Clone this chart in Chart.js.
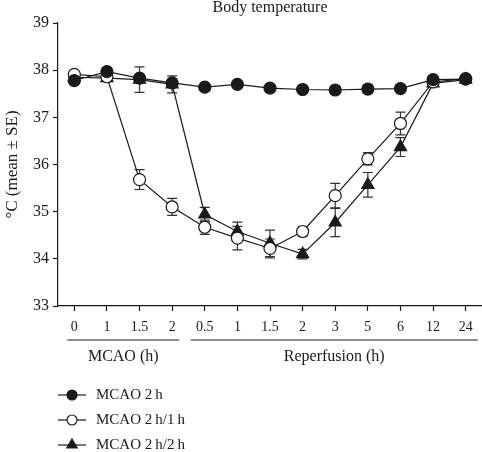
<!DOCTYPE html>
<html>
<head>
<meta charset="utf-8">
<script src="https://cdn.jsdelivr.net/npm/chart.js@4/dist/chart.umd.min.js"></script>
<style>
html, body { margin: 0; padding: 0; background: #fff; }
</style>
</head>
<body>
<canvas id="myChart" width="482" height="452"></canvas>
<script>
// time points (h): first four during MCAO, rest after reperfusion
const timeLabels = ["0", "1", "1.5", "2", "0.5", "1", "1.5", "2", "3", "5", "6", "12", "24"];
const groupNames = ["MCAO (h)", "Reperfusion (h)"];
const seriesNames = ["MCAO 2\u2009h", "MCAO 2\u2009h/1\u2009h", "MCAO 2\u2009h/2\u2009h"];

const mcao2h    = [37.78, 37.97, 37.83, 37.73, 37.64, 37.70, 37.62, 37.59, 37.58, 37.60, 37.61, 37.80, 37.81];
const mcao2h_se = [0.05, 0.05, 0.05, 0.05, 0.04, 0.04, 0.04, 0.04, 0.04, 0.04, 0.04, 0.04, 0.04];

const mcao1h    = [37.91, 37.86, 35.68, 35.10, 34.67, 34.44, 34.22, 34.58, 35.34, 36.12, 36.87, 37.75, 37.82];
const mcao1h_se = [0.05, 0.05, 0.21, 0.18, 0.15, 0.25, 0.20, 0.10, 0.26, 0.13, 0.24, 0.05, 0.04];

const reperf2h    = [37.85, 37.83, 37.80, 37.70, 34.94, 34.58, 34.33, 34.10, 34.77, 35.57, 36.37, 37.72, 37.80];
const reperf2h_se = [0.05, 0.05, 0.27, 0.18, 0.15, 0.20, 0.28, 0.10, 0.30, 0.26, 0.20, 0.05, 0.04];

const serif = "'Liberation Serif', 'DejaVu Serif', serif";
const ink = "#1a1a1a";

// vertical SE bars, drawn under the markers
const errorBars = {
    id: "errorBars",
    beforeDatasetsDraw(chart) {
        const ctx = chart.ctx;
        const y = chart.scales.y;
        ctx.save();
        ctx.strokeStyle = "#333";
        ctx.lineWidth = 1.2;
        chart.data.datasets.forEach((ds, i) => {
            const meta = chart.getDatasetMeta(i);
            meta.data.forEach((pt, j) => {
                const se = ds.se[j];
                if (!se) return;
                const top = y.getPixelForValue(ds.data[j] + se);
                const bot = y.getPixelForValue(ds.data[j] - se);
                ctx.beginPath();
                ctx.moveTo(pt.x, top); ctx.lineTo(pt.x, bot);
                ctx.moveTo(pt.x - 5, top); ctx.lineTo(pt.x + 5, top);
                ctx.moveTo(pt.x - 5, bot); ctx.lineTo(pt.x + 5, bot);
                ctx.stroke();
            });
        });
        ctx.restore();
    }
};

// legend marker drawn with the chart's own point helper
function legendMarker(ctx, ds, px, py) {
    ctx.save();
    ctx.fillStyle = ds.pointBackgroundColor;
    ctx.strokeStyle = ink;
    ctx.lineWidth = 1.2;
    Chart.helpers.drawPoint(ctx, {
        pointStyle: ds.pointStyle,
        radius: ds.pointStyle === "triangle" ? 6 : 5,
        rotation: 0,
        borderWidth: 1.2
    }, px, py);
    ctx.restore();
}

// group brackets under the x axis plus the legend at the bottom
const extras = {
    id: "extras",
    afterDraw(chart) {
        const ctx = chart.ctx;
        const x = chart.scales.x;
        ctx.save();
        ctx.strokeStyle = ink;
        ctx.fillStyle = ink;
        ctx.lineWidth = 1.2;
        ctx.textBaseline = "middle";

        const groups = [
            [x.getPixelForValue(0) - 7, x.getPixelForValue(3) + 7],
            [x.getPixelForValue(4) - 14, x.getPixelForValue(12) + 12]
        ];
        ctx.font = "16px " + serif;
        ctx.textAlign = "center";
        groups.forEach((g, i) => {
            ctx.beginPath();
            ctx.moveTo(g[0], 340); ctx.lineTo(g[1], 340);
            ctx.stroke();
            ctx.fillText(groupNames[i], (g[0] + g[1]) / 2, 357);
        });

        ctx.font = "15px " + serif;
        ctx.textAlign = "left";
        const rows = [395, 420, 445];
        chart.data.datasets.forEach((ds, i) => {
            const yy = rows[i];
            ctx.beginPath();
            ctx.moveTo(58, yy); ctx.lineTo(86, yy);
            ctx.stroke();
            legendMarker(ctx, ds, 72, yy);
            ctx.fillText(seriesNames[i], 96, yy);
        });
        ctx.restore();
    }
};

function makeSet(label, values, se, style, fill) {
    return {
        label: label,
        data: values,
        se: se,
        borderColor: ink,
        borderWidth: 1.2,
        pointStyle: style,
        pointRadius: style === "triangle" ? 7 : 6,
        pointHoverRadius: style === "triangle" ? 7 : 6,
        pointBackgroundColor: fill,
        pointBorderColor: ink,
        pointBorderWidth: 1.2,
        tension: 0,
        clip: false
    };
}

const ctx = document.getElementById("myChart");
new Chart(ctx, {
    type: "line",
    data: {
        labels: timeLabels,
        datasets: [
            makeSet(seriesNames[0], mcao2h, mcao2h_se, "circle", ink),
            makeSet(seriesNames[1], mcao1h, mcao1h_se, "circle", "#ffffff"),
            makeSet(seriesNames[2], reperf2h, reperf2h_se, "triangle", ink)
        ]
    },
    options: {
        responsive: false,
        animation: false,
        devicePixelRatio: 1,
        layout: { padding: 0, autoPadding: false },
        plugins: {
            legend: { display: false },
            tooltip: { enabled: false },
            title: {
                display: true,
                text: "Body temperature",
                color: ink,
                fullSize: false,
                font: { family: serif, size: 16, weight: "normal", lineHeight: 1 },
                padding: { top: 0, bottom: 7 }
            }
        },
        scales: {
            x: {
                type: "category",
                offset: true,
                grid: { display: true, drawOnChartArea: false, tickLength: 5, tickColor: ink, tickWidth: 1.2 },
                border: { display: true, color: ink, width: 1.2 },
                ticks: { color: ink, font: { family: serif, size: 14 }, padding: 8, maxRotation: 0, autoSkip: false },
                afterFit(scale) {
                    scale.height = 146;
                    scale.paddingLeft = 0;
                    scale.paddingRight = 0;
                }
            },
            y: {
                min: 33,
                max: 39,
                ticks: { stepSize: 1, color: ink, font: { family: serif, size: 16 }, padding: 4 },
                grid: { display: true, drawOnChartArea: false, tickLength: 5, tickColor: ink, tickWidth: 1.2 },
                border: { display: true, color: ink, width: 1.2 },
                title: {
                    display: true,
                    text: "°C (mean ± SE)",
                    color: ink,
                    font: { family: serif, size: 17 },
                    padding: { top: 2, bottom: 0 }
                },
                afterFit(scale) { scale.width = 58; }
            }
        }
    },
    plugins: [errorBars, extras]
});
</script>
</body>
</html>
